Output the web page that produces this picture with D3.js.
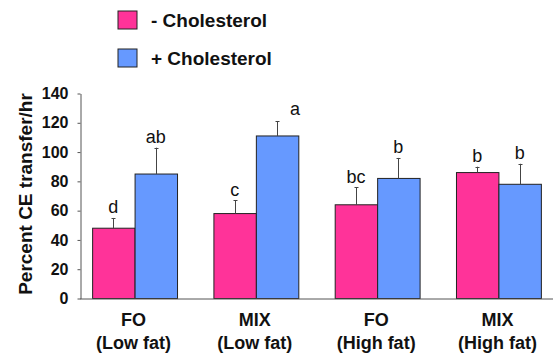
<!DOCTYPE html>
<html>
<head>
<meta charset="utf-8">
<script src="https://cdn.jsdelivr.net/npm/d3@7"></script>
<style>
  body { margin: 0; background: #fff; }
  text { font-family: Arial, "Liberation Sans", sans-serif; }
</style>
</head>
<body>
<div id="chart"></div>
<script>
// Data
const groups = ['FO|(Low fat)', 'MIX|(Low fat)', 'FO|(High fat)', 'MIX|(High fat)'];
const series = ['- Cholesterol', '+ Cholesterol'];
const minusChol = [48, 58, 64, 86];
const plusChol = [85, 111, 82, 78];
const minusErr = [7, 9, 12, 4];
const plusErr = [18, 10, 14, 14];
const minusLetters = ['d', 'c', 'bc', 'b'];
const plusLetters = ['ab', 'a', 'b', 'b'];
const yTicks = [0, 20, 40, 60, 80, 100, 120, 140];

const colors = ['#ff3399', '#6699ff'];

const width = 553, height = 354;
const svg = d3.select('#chart').append('svg')
  .attr('width', width).attr('height', height);

const x = d3.scaleBand().domain(groups).range([80, 553])
  .paddingInner(0.3).paddingOuter(0.1);
const xSub = d3.scaleBand().domain(series).range([0, x.bandwidth()]);
const y = d3.scaleLinear().domain([0, 140]).range([298.5, 93.5]);

// rows for the bars
const rows = [];
groups.forEach((g, i) => {
  rows.push({ g, s: series[0], v: minusChol[i], e: minusErr[i], l: minusLetters[i], c: colors[0] });
  rows.push({ g, s: series[1], v: plusChol[i], e: plusErr[i], l: plusLetters[i], c: colors[1] });
});

// Bars
svg.append('g').selectAll('rect').data(rows).join('rect')
  .attr('x', d => x(d.g) + xSub(d.s) + 0.5)
  .attr('y', d => y(d.v))
  .attr('width', xSub.bandwidth())
  .attr('height', d => y(0) - y(d.v))
  .attr('fill', d => d.c)
  .attr('stroke', '#222')
  .attr('stroke-width', 1);

// Error bars (upper only)
const err = svg.append('g').attr('stroke', '#444').attr('stroke-width', 1);
rows.forEach(d => {
  const cx = Math.round(x(d.g) + xSub(d.s) + xSub.bandwidth() / 2) + 0.5;
  err.append('line').attr('x1', cx).attr('x2', cx)
    .attr('y1', y(d.v)).attr('y2', y(d.v + d.e));
  err.append('line').attr('x1', cx - 2).attr('x2', cx + 2)
    .attr('y1', Math.round(y(d.v + d.e)) + 0.5).attr('y2', Math.round(y(d.v + d.e)) + 0.5);
});

// Significance letters ('a' sits off to the right in the original)
svg.append('g').selectAll('text').data(rows).join('text')
  .attr('x', d => x(d.g) + xSub(d.s) + xSub.bandwidth() / 2 + (d.l === 'a' ? 18 : 0))
  .attr('y', d => y(d.v + d.e) - (d.l === 'a' ? 6 : 4.5))
  .attr('text-anchor', 'middle')
  .attr('font-size', 18)
  .attr('fill', '#111')
  .text(d => d.l);

// Y axis
const yAxis = svg.append('g').attr('transform', 'translate(80.5,0)')
  .call(d3.axisLeft(y).tickValues(yTicks).tickSize(3).tickSizeOuter(0).tickPadding(9));
yAxis.select('.domain').attr('stroke', '#555');
yAxis.selectAll('.tick line').attr('stroke', '#555');
yAxis.selectAll('.tick text')
  .attr('font-size', 16).attr('font-weight', 'bold')
  .attr('fill', '#111');

// X axis line
svg.append('line')
  .attr('x1', 80).attr('x2', 553)
  .attr('y1', y(0) + 0.5).attr('y2', y(0) + 0.5)
  .attr('stroke', '#555');

// X labels
const xl = svg.append('g').selectAll('text').data(groups).join('text')
  .attr('text-anchor', 'middle')
  .attr('font-size', 18).attr('font-weight', 'bold')
  .attr('fill', '#111');
xl.append('tspan').attr('x', d => x(d) + x.bandwidth() / 2 - 1).attr('y', 326)
  .text(d => d.split('|')[0]);
xl.append('tspan').attr('x', d => x(d) + x.bandwidth() / 2 - 1).attr('y', 349)
  .text(d => d.split('|')[1]);

// Y title
svg.append('text')
  .attr('transform', 'translate(32,194) rotate(-90)')
  .attr('text-anchor', 'middle')
  .attr('font-size', 19).attr('font-weight', 'bold')
  .attr('fill', '#111')
  .text('Percent CE transfer/hr');

// Legend
const legend = svg.append('g').selectAll('g').data(series).join('g')
  .attr('transform', (d, i) => `translate(118,${11 + i * 38})`);
legend.append('rect')
  .attr('width', 19).attr('height', 18)
  .attr('fill', (d, i) => colors[i])
  .attr('stroke', '#222');
legend.append('text')
  .attr('x', 33).attr('y', 16)
  .attr('font-size', 19).attr('font-weight', 'bold')
  .attr('fill', '#111')
  .text(d => d);
</script>
</body>
</html>
